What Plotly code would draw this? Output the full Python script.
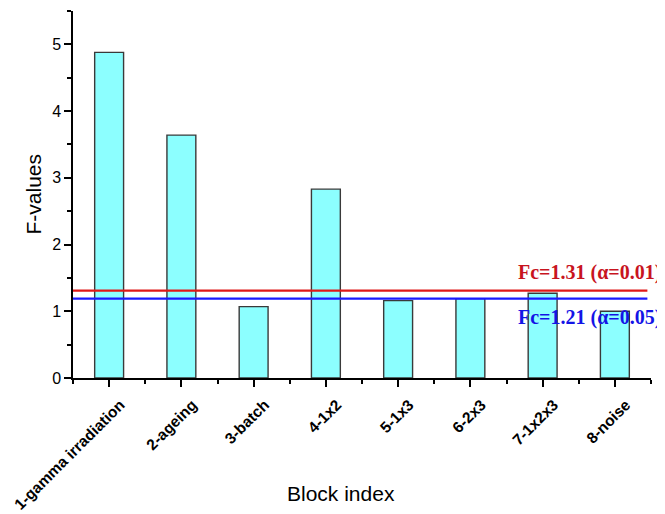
import plotly.graph_objects as go

categories = ["1-gamma irradiation", "2-ageing", "3-batch", "4-1x2", "5-1x3", "6-2x3", "7-1x2x3", "8-noise"]
f_values = [4.88, 3.64, 1.07, 2.83, 1.16, 1.19, 1.27, 1.0]
fc_values = [1.31, 1.19]
fc_labels = ["Fc=1.31 (α=0.01)", "Fc=1.21 (α=0.05)"]
fc_line_colors = ["#e01818", "#1a1aff"]
fc_text_colors = ["#c8141e", "#1414e6"]
fc_text_y = [1.58, 0.90]

x_pos = list(range(len(categories)))

fig = go.Figure()
fig.add_trace(go.Bar(
    x=x_pos, y=f_values, width=0.4,
    marker=dict(color="#8CFFFF", line=dict(color="#3a3a3a", width=1.4)),
    showlegend=False,
))

for v, lc in zip(fc_values, fc_line_colors):
    fig.add_shape(type="line", xref="x", yref="y", x0=-0.5, x1=7.45, y0=v, y1=v,
                  line=dict(color=lc, width=2.2), layer="above")

for txt, tc, ty in zip(fc_labels, fc_text_colors, fc_text_y):
    fig.add_annotation(text=f"<b>{txt}</b>", xref="paper", yref="y", x=1.0, y=ty,
                       xanchor="right", yanchor="middle", xshift=12, showarrow=False,
                       font=dict(family="Liberation Serif", size=20, color=tc))

fig.add_annotation(text="Block index", xref="paper", yref="paper", x=0.0, y=0.0,
                   xanchor="center", yanchor="middle", xshift=268, yshift=-115,
                   showarrow=False, font=dict(family="Liberation Sans", size=21, color="#000"))
fig.add_annotation(text="F-values", xref="paper", yref="paper", x=0.0, y=0.5,
                   xanchor="center", yanchor="middle", xshift=-40, textangle=-90,
                   showarrow=False, font=dict(family="Liberation Sans", size=21, color="#000"))

fig.update_layout(
    width=657, height=506,
    margin=dict(l=65, r=14, t=3, b=136, autoexpand=False),
    plot_bgcolor="white", paper_bgcolor="white",
    font=dict(family="Liberation Sans", size=16, color="#000"),
    bargap=0.6,
)
fig.update_xaxes(
    range=[-0.5, 7.5], tickmode="array", tickvals=x_pos,
    ticktext=[f"<b>{c}</b>" for c in categories], tickangle=-45,
    showline=True, linecolor="#000", linewidth=1.5,
    ticks="outside", ticklen=7, tickwidth=1.5, tickcolor="#000",
    minor=dict(ticks="outside", ticklen=4, tickwidth=1.5, tickcolor="#000", tick0=0.5, dtick=1),
    showgrid=False, zeroline=False, tickfont=dict(size=15.5),
    automargin=False, ticklabeloverflow="allow",
    ticklabelshift=11, ticklabelstandoff=3,
)
fig.update_yaxes(
    range=[0, 5.5], tickmode="linear", tick0=0, dtick=1,
    showline=True, linecolor="#000", linewidth=1.5,
    ticks="outside", ticklen=7, tickwidth=1.5, tickcolor="#000",
    minor=dict(ticks="outside", ticklen=4, tickwidth=1.5, tickcolor="#000", tick0=0, dtick=0.5),
    showgrid=False, zeroline=False, tickfont=dict(size=16),
    automargin=False,
)

fig.write_html("out.html")
